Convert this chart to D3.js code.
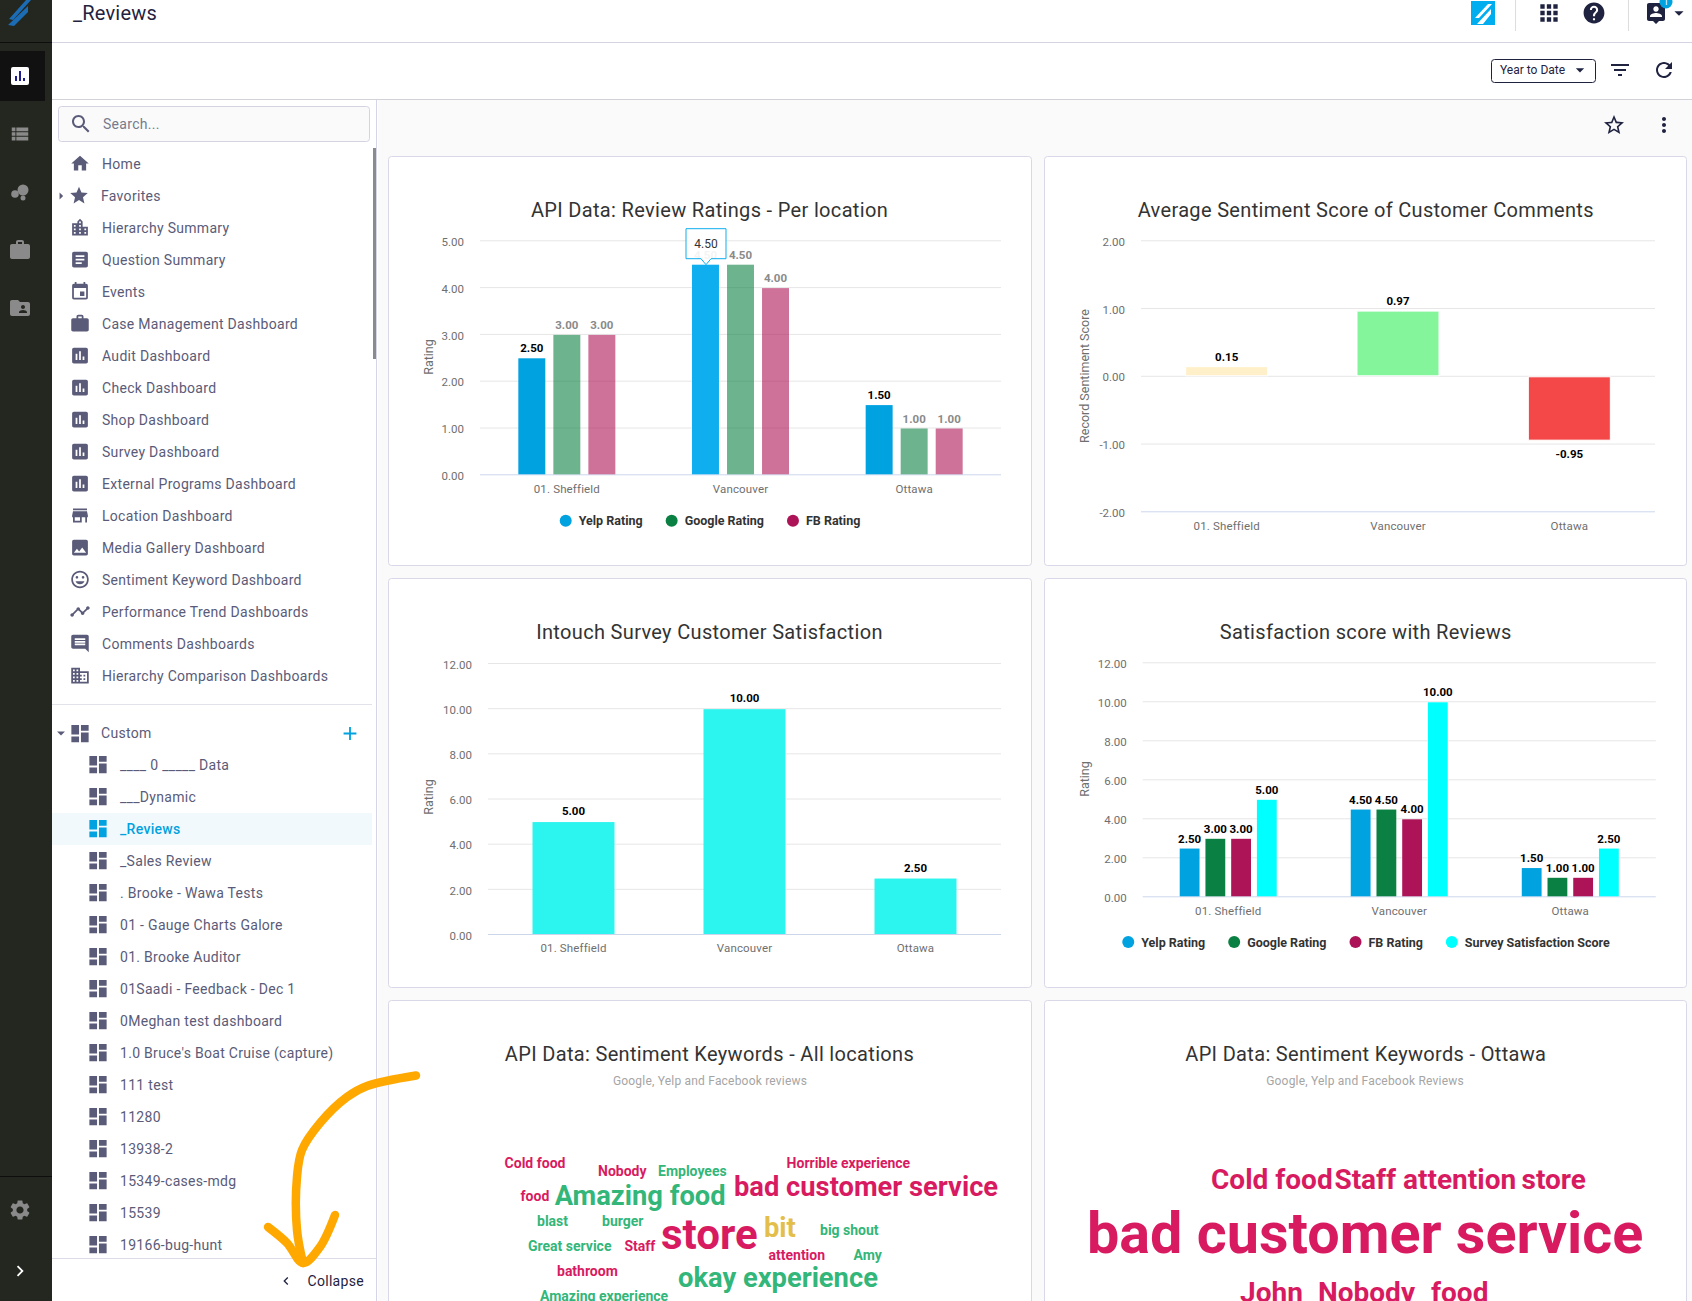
<!DOCTYPE html>
<html><head><meta charset="utf-8"><title>_Reviews</title>
<script src="https://cdn.jsdelivr.net/npm/d3@7"></script>
<style>
html,body{margin:0;padding:0;background:#fff;overflow:hidden}
svg{display:block;font-family:Roboto,sans-serif}
</style></head><body>
<svg id="page" width="1692" height="1301"></svg>
<script>
// ---------- data ----------
const categories = ["01. Sheffield","Vancouver","Ottawa"];
const yelpRating = [2.5,4.5,1.5];
const googleRating = [3,4.5,1];
const fbRating = [3,4,1];
const surveyScore = [5,10,2.5];
const sentimentScore = [0.15,0.97,-0.95];
const sidebarTop = ["Home","Favorites","Hierarchy Summary","Question Summary","Events","Case Management Dashboard","Audit Dashboard","Check Dashboard","Shop Dashboard","Survey Dashboard","External Programs Dashboard","Location Dashboard","Media Gallery Dashboard","Sentiment Keyword Dashboard","Performance Trend Dashboards","Comments Dashboards","Hierarchy Comparison Dashboards"];
const sidebarCustom = ["____ 0 _____ Data","___Dynamic","_Reviews","_Sales Review",". Brooke - Wawa Tests","01 - Gauge Charts Galore","01. Brooke Auditor","01Saadi - Feedback - Dec 1","0Meghan test dashboard","1.0 Bruce's Boat Cruise (capture)","111 test","11280","13938-2","15349-cases-mdg","15539","19166-bug-hunt"];
const cloudAllWords = ["Cold food","Nobody","Employees","Horrible experience","food","Amazing food","bad customer service","blast","burger","store","bit","big shout","Great service","Staff","attention","Amy","bathroom","okay experience","Amazing experience"];
const cloudAllWeights = [1,1,1,1,1,2,2,1,1,3,2,1,1,1,1,1,1,2,1];
const cloudAllTone = ["neg","neg","pos","neg","neg","pos","neg","pos","pos","neg","neu","pos","pos","neg","neg","pos","neg","pos","pos"];
const cloudOttawaWords = ["Cold food","Staff","attention","store","bad customer service","John","Nobody","food"];
const cloudOttawaWeights = [1,1,1,1,2,1,1,1];

// ---------- layout & style (kept apart from the data) ----------
const C = {ink:"#1f2340", side:"#5a5b78", rail:"#23271f", railIcon:"#8a8a8a", blue:"#00a2e0", grid:"#e6e6e6", base:"#ccd6eb", axis:"#6f6f6f", title:"#333"};
const seriesColor = {yelp:"#00a2e0", google:"#0b8043", fb:"#ad1457", survey:"#00ffff"};
const toneColor = {neg:"#d81b60", pos:"#33b679", neu:"#e4be4b"};
const cloudAllPos = [[504.6,1168],[598,1176],[658,1176],[786.6,1168],[520.6,1200.5],[554.7,1205],[734,1196],[537,1226],[602,1226],[661,1249],[764,1237],[820,1235],[528,1251],[624.5,1251],[768.5,1260],[853.5,1260],[557,1276],[678,1287],[540,1301]];
const cloudOttawaPos = [[1211,1189],[1334.4,1189],[1403,1189],[1521.5,1189],[1087,1253],[1240,1302],[1318,1302],[1431,1302]];
const ICON = {
 home:"M10 20v-6h4v6h5v-8h3L12 3 2 12h3v8z",
 star:"M12 17.27L18.18 21l-1.64-7.03L22 9.24l-7.19-.61L12 2 9.19 8.63 2 9.24l5.46 4.73L5.82 21z",
 city:"M15 11V5l-3-3-3 3v2H3v14h18V11h-6zm-8 8H5v-2h2v2zm0-4H5v-2h2v2zm0-4H5V9h2v2zm6 8h-2v-2h2v2zm0-4h-2v-2h2v2zm0-4h-2V9h2v2zm0-4h-2V5h2v2zm6 12h-2v-2h2v2zm0-4h-2v-2h2v2z",
 article:"M19 3H5c-1.1 0-2 .9-2 2v14c0 1.1.9 2 2 2h14c1.1 0 2-.9 2-2V5c0-1.1-.9-2-2-2zm-5 14H7v-2h7v2zm3-4H7v-2h10v2zm0-4H7V7h10v2z",
 event:"M17 12h-5v5h5v-5zM16 1v2H8V1H6v2H5c-1.11 0-1.99.9-1.99 2L3 19c0 1.1.89 2 2 2h14c1.1 0 2-.9 2-2V5c0-1.1-.9-2-2-2h-1V1h-2zm3 18H5V8h14v11z",
 work:"M20 6h-4V4c0-1.11-.89-2-2-2h-4c-1.11 0-2 .89-2 2v2H4c-1.11 0-1.99.89-1.99 2L2 19c0 1.11.89 2 2 2h16c1.11 0 2-.89 2-2V8c0-1.11-.89-2-2-2zm-6 0h-4V4h4v2z",
 chart:"M19 3H5c-1.1 0-2 .9-2 2v14c0 1.1.9 2 2 2h14c1.1 0 2-.9 2-2V5c0-1.1-.9-2-2-2zM9 17H7v-7h2v7zm4 0h-2V7h2v10zm4 0h-2v-4h2v4z",
 store:"M20 4H4v2h16V4zm1 10v-2l-1-5H4l-1 5v2h1v6h10v-6h4v6h2v-6h1zm-9 4H6v-4h6v4z",
 photo:"M21 19V5c0-1.1-.9-2-2-2H5c-1.1 0-2 .9-2 2v14c0 1.1.9 2 2 2h14c1.1 0 2-.9 2-2zM8.5 13.5l2.5 3.01L14.5 12l4.5 6H5l3.5-4.5z",
 mood:"M11.99 2C6.47 2 2 6.48 2 12s4.47 10 9.99 10C17.52 22 22 17.52 22 12S17.52 2 11.99 2zM12 20c-4.42 0-8-3.58-8-8s3.58-8 8-8 8 3.58 8 8-3.58 8-8 8zm3.5-9c.83 0 1.5-.67 1.5-1.5S16.33 8 15.5 8 14 8.67 14 9.5s.67 1.5 1.5 1.5zm-7 0c.83 0 1.5-.67 1.5-1.5S9.33 8 8.5 8 7 8.67 7 9.5 7.67 11 8.5 11zm3.5 6.5c2.33 0 4.31-1.46 5.11-3.5H6.89c.8 2.04 2.78 3.5 5.11 3.5z",
 timeline:"M23 8c0 1.1-.9 2-2 2-.18 0-.35-.02-.51-.07l-3.56 3.55c.05.16.07.34.07.52 0 1.1-.9 2-2 2s-2-.9-2-2c0-.18.02-.36.07-.52l-2.55-2.55c-.16.05-.34.07-.52.07s-.36-.02-.52-.07l-4.55 4.56c.05.16.07.33.07.51 0 1.1-.9 2-2 2s-2-.9-2-2 .9-2 2-2c.18 0 .35.02.51.07l4.56-4.55C8.02 9.36 8 9.18 8 9c0-1.1.9-2 2-2s2 .9 2 2c0 .18-.02.36-.07.52l2.55 2.55c.16-.05.34-.07.52-.07s.36.02.52.07l3.55-3.56C19.02 8.35 19 8.18 19 8c0-1.1.9-2 2-2s2 .9 2 2z",
 comment:"M21.99 4c0-1.1-.89-2-1.99-2H4c-1.1 0-2 .9-2 2v12c0 1.1.9 2 2 2h14l4 4-.01-18zM18 14H6v-2h12v2zm0-3H6V9h12v2zm0-3H6V6h12v2z",
 domain:"M12 7V3H2v18h20V7H12zM6 19H4v-2h2v2zm0-4H4v-2h2v2zm0-4H4V9h2v2zm0-4H4V5h2v2zm4 12H8v-2h2v2zm0-4H8v-2h2v2zm0-4H8V9h2v2zm0-4H8V5h2v2zm10 12h-8v-2h2v-2h-2v-2h2v-2h-2V9h8v10zm-2-8h-2v2h2v-2zm0 4h-2v2h2v-2z",
 dash:"M3 13h8V3H3v10zm0 8h8v-6H3v6zm10 0h8V11h-8v10zm0-18v6h8V3h-8z",
 search:"M15.5 14h-.79l-.28-.27C15.41 12.59 16 11.11 16 9.5 16 5.91 13.09 3 9.5 3S3 5.91 3 9.5 5.91 16 9.5 16c1.61 0 3.09-.59 4.23-1.57l.27.28v.79l5 4.99L20.49 19l-4.99-5zm-6 0C7.01 14 5 11.99 5 9.5S7.01 5 9.5 5 14 7.01 14 9.5 11.99 14 9.5 14z",
 gear:"M19.14 12.94c.04-.3.06-.61.06-.94 0-.32-.02-.64-.07-.94l2.03-1.58c.18-.14.23-.41.12-.61l-1.92-3.32c-.12-.22-.37-.29-.59-.22l-2.39.96c-.5-.38-1.03-.7-1.62-.94l-.36-2.54c-.04-.24-.24-.41-.48-.41h-3.84c-.24 0-.43.17-.47.41l-.36 2.54c-.59.24-1.13.57-1.62.94l-2.39-.96c-.22-.08-.47 0-.59.22L2.74 8.87c-.12.21-.08.47.12.61l2.03 1.58c-.05.3-.09.63-.09.94s.02.64.07.94l-2.03 1.58c-.18.14-.23.41-.12.61l1.92 3.32c.12.22.37.29.59.22l2.39-.96c.5.38 1.03.7 1.62.94l.36 2.54c.05.24.24.41.48.41h3.84c.24 0 .44-.17.47-.41l.36-2.54c.59-.24 1.13-.56 1.62-.94l2.39.96c.22.08.47 0 .59-.22l1.92-3.32c.12-.22.07-.47-.12-.61l-2.01-1.58zM12 15.6c-1.98 0-3.6-1.62-3.6-3.6s1.62-3.6 3.6-3.6 3.6 1.62 3.6 3.6-1.62 3.6-3.6 3.6z",
 help:"M12 2C6.48 2 2 6.48 2 12s4.48 10 10 10 10-4.48 10-10S17.52 2 12 2zm1 17h-2v-2h2v2zm2.07-7.75l-.9.92C13.45 12.9 13 13.5 13 15h-2v-.5c0-1.1.45-2.1 1.17-2.83l1.24-1.26c.37-.36.59-.86.59-1.41 0-1.1-.9-2-2-2s-2 .9-2 2H8c0-2.21 1.79-4 4-4s4 1.79 4 4c0 .88-.36 1.68-.93 2.25z",
 apps:"M4 8h4V4H4v4zm6 12h4v-4h-4v4zm-6 0h4v-4H4v4zm0-6h4v-4H4v4zm6 0h4v-4h-4v4zm6-10v4h4V4h-4zm-6 4h4V4h-4v4zm6 6h4v-4h-4v4zm0 6h4v-4h-4v4z",
 filter:"M10 18h4v-2h-4v2zM3 6v2h18V6H3zm3 7h12v-2H6v2z",
 refresh:"M17.65 6.35C16.2 4.9 14.21 4 12 4c-4.42 0-7.99 3.58-7.99 8s3.57 8 7.99 8c3.73 0 6.84-2.55 7.73-6h-2.08c-.82 2.33-3.04 4-5.65 4-3.31 0-6-2.69-6-6s2.69-6 6-6c1.66 0 3.14.69 4.22 1.78L13 11h7V4l-2.35 2.35z",
 starO:"M22 9.24l-7.19-.62L12 2 9.19 8.63 2 9.24l5.46 4.73L5.82 21 12 17.27 18.18 21l-1.63-7.03L22 9.24zM12 15.4l-3.76 2.27 1-4.28-3.32-2.88 4.38-.38L12 6.1l1.71 4.04 4.38.38-3.32 2.88 1 4.28L12 15.4z",
 more:"M12 8c1.1 0 2-.9 2-2s-.9-2-2-2-2 .9-2 2 .9 2 2 2zm0 2c-1.1 0-2 .9-2 2s.9 2 2 2 2-.9 2-2-.9-2-2-2zm0 6c-1.1 0-2 .9-2 2s.9 2 2 2 2-.9 2-2-.9-2-2-2z",
 list:"M3 14h4v-4H3v4zm0 5h4v-4H3v4zM3 9h4V5H3v4zm5 5h13v-4H8v4zm0 5h13v-4H8v4zM8 5v4h13V5H8z",
 folder:"M20 6h-8l-2-2H4c-1.1 0-1.99.9-1.99 2L2 18c0 1.1.9 2 2 2h16c1.1 0 2-.9 2-2V8c0-1.1-.9-2-2-2zm-5 3c1.1 0 2 .9 2 2s-.9 2-2 2-2-.9-2-2 .9-2 2-2zm4 8h-8v-1c0-1.33 2.67-2 4-2s4 .67 4 2v1z",
 user:"M19 2H5c-1.11 0-2 .9-2 2v14c0 1.1.89 2 2 2h4l3 3 3-3h4c1.1 0 2-.9 2-2V4c0-1.1-.9-2-2-2zm-7 3.3c1.49 0 2.7 1.21 2.7 2.7 0 1.49-1.21 2.7-2.7 2.7-1.49 0-2.7-1.21-2.7-2.7 0-1.49 1.21-2.7 2.7-2.7zM18 16H6v-.9c0-2 4-3.1 6-3.1s6 1.1 6 3.1v.9z",
 caret:"M7 10l5 5 5-5z", caretR:"M10 7l5 5-5 5z", chev:"M8.6 16.6L13.2 12 8.6 7.4 10 6l6 6-6 6z", chevL:"M15.4 7.4L10.8 12l4.6 4.6L14 18l-6-6 6-6z", plus:"M19 13h-6v6h-2v-6H5v-2h6V5h2v6h6v2z"
};
const topIcons = ["home","star","city","article","event","work","chart","chart","chart","chart","chart","store","photo","mood","timeline","comment","domain"];

const svg = d3.select("#page");
function rect(p,x,y,w,h,fill,extra={}){const r=p.append("rect").attr("x",x).attr("y",y).attr("width",w).attr("height",h).attr("fill",fill);Object.entries(extra).forEach(([k,v])=>r.attr(k,v));return r;}
function text(p,x,y,s,size,fill,extra={}){const t=p.append("text").attr("x",x).attr("y",y).attr("font-size",size).attr("fill",fill).text(s);Object.entries(extra).forEach(([k,v])=>t.attr(k,v));return t;}
function icon(p,name,cx,cy,px,fill){return p.append("path").attr("d",ICON[name]).attr("fill",fill).attr("transform",`translate(${cx-px/2},${cy-px/2}) scale(${px/24})`);}
function hline(p,x1,x2,y,c){p.append("line").attr("x1",x1).attr("x2",x2).attr("y1",y).attr("y2",y).attr("stroke",c).attr("stroke-width",1);}

// ---------- page chrome ----------
rect(svg,0,0,1692,1301,"#fff");
rect(svg,378,100,1314,1201,"#fafafa");
// rail
rect(svg,0,0,52,1301,C.rail);
rect(svg,0,42,52,1,"#0e0e0e");
rect(svg,0,1176,52,1,"#0e0e0e");
rect(svg,0,51,45,50,"#111");
svg.append("path").attr("d","M9 19L26 0H31L13 20ZM8 25L28 6V12L14 26Z").attr("fill","#1b6bb5");
rect(svg,11,67,18,18,"#fff",{rx:2});
rect(svg,15,76,2,5,"#1d1d8f");rect(svg,19,71,2,10,"#1d1d8f");rect(svg,23,78,2,3,"#1d1d8f");
icon(svg,"list",20,134,22,C.railIcon);
[[23,190,5.5],[15,194,3.8],[23,198,2.5]].forEach(([x,y,r])=>svg.append("circle").attr("cx",x).attr("cy",y).attr("r",r).attr("fill",C.railIcon));
icon(svg,"work",20,250,24,C.railIcon);
icon(svg,"folder",20,308,24,C.railIcon);
icon(svg,"gear",20,1210,24,C.railIcon);
icon(svg,"chev",20,1271,22,"#fff");

// header
text(svg,73,20,"_Reviews",20,C.ink,{"letter-spacing":"0.2"});
hline(svg,52,1692,42.5,"#d5d3e3");
hline(svg,52,1692,99.5,"#d2d2d8");
svg.append("line").attr("x1",376.5).attr("x2",376.5).attr("y1",100).attr("y2",1301).attr("stroke","#d5d5e8");
rect(svg,1471,1,24,24,"#00aeef");
svg.append("path").attr("d","M1475 18L1488 4H1492L1479 18ZM1477 24L1491 9V14L1483 24Z").attr("fill","#fff");
rect(svg,1515,0,1,31,"#ddd");rect(svg,1628,0,1,31,"#ddd");
icon(svg,"apps",1549,13,26,C.ink);
icon(svg,"help",1594,13,25,C.ink);
icon(svg,"user",1656,13,24,C.ink);
svg.append("circle").attr("cx",1666).attr("cy",2).attr("r",6.5).attr("fill",C.blue);
text(svg,1666,5,"1",9,"#fff",{"text-anchor":"middle"});
icon(svg,"caret",1679,13,22,C.ink);
rect(svg,1491.5,59.5,104,23,"#fff",{stroke:C.ink,rx:3});
text(svg,1500,74,"Year to Date",12,C.ink);
icon(svg,"caret",1580,70,20,C.ink);
icon(svg,"filter",1620,70,24,C.ink);
icon(svg,"refresh",1664,70,24,C.ink);
icon(svg,"starO",1614,125,24,C.ink);
icon(svg,"more",1664,125,24,C.ink);

// sidebar
const sideFont={"letter-spacing":"0.3"};
rect(svg,58.5,106.5,311,35,"#fafafa",{stroke:"#d5d3e3",rx:3});
icon(svg,"search",81,124,24,C.side);
text(svg,103,129,"Search...",14,"#777a8c",sideFont);
rect(svg,373,148,3,211,"#8a8a8f");
const rowsTop = d3.scalePoint().domain(sidebarTop).range([163.5,675.5]);
sidebarTop.forEach((s,i)=>{
  const y=rowsTop(s), x=s==="Favorites"?101:102;
  icon(svg,topIcons[i],i===1?79:80,y,21,C.side);
  text(svg,x,y+5,s,14,C.side,sideFont);
});
icon(svg,"caretR",61,196,17,C.side);
hline(svg,52,372,704.5,"#e2e2ea");
icon(svg,"caret",61,733,19,C.side);
icon(svg,"dash",80,733.5,23,C.side);
text(svg,101,738,"Custom",14,C.side,sideFont);
icon(svg,"plus",350,733.5,22,C.blue);
const rowsCustom = d3.scalePoint().domain(sidebarCustom).range([764.5,1244.5]);
rect(svg,52,813,320,32,"#f2f9fc");
sidebarCustom.forEach(s=>{
  const y=rowsCustom(s), on=s==="_Reviews", c=on?C.blue:C.side;
  icon(svg,"dash",98,y,23,c);
  text(svg,120,y+5,s,14,c,{...sideFont,"font-weight":on?500:400});
});
rect(svg,52,1258,324,43,"#fff");
hline(svg,52,376,1258.5,"#dcdce8");
icon(svg,"chevL",286,1281,16,C.ink);
text(svg,307.5,1285.5,"Collapse",14,C.ink,sideFont);

// ---------- cards ----------
function card(x0,x1,y0,y1){rect(svg,x0+.5,y0+.5,x1-x0,y1-y0,"#fff",{stroke:"#d8d8e8",rx:3});}
const col1=[388,1031], col2=[1044,1686];
card(col1[0],col1[1],156,565);card(col2[0],col2[1],156,565);
card(col1[0],col1[1],578,987);card(col2[0],col2[1],578,987);
card(col1[0],col1[1],1000,1320);card(col2[0],col2[1],1000,1320);
function title(cx,y,s){text(svg,cx,y,s,20,C.title,{"text-anchor":"middle","letter-spacing":"0.33"});}
const fmt=v=>d3.format(".2f")(v).replace("\u2212","-");
const barInset=1;

function frame(o){
  const g=svg.append("g");
  const y=d3.scaleLinear().domain(o.domain).range(o.yRange);
  const x=d3.scaleBand().domain(categories).range(o.xRange);
  const ax=g.append("g").attr("transform",`translate(${o.xRange[0]},0)`)
    .call(d3.axisLeft(y).tickValues(o.ticks).tickFormat(fmt).tickSize(-(o.xRange[1]-o.xRange[0])).tickPadding(o.pad));
  ax.select(".domain").remove();
  ax.selectAll(".tick line").attr("stroke",d=>d===o.domain[0]?C.base:C.grid);
  ax.selectAll(".tick text").attr("fill",C.axis).attr("font-size",11.5).attr("font-family","Roboto").attr("transform","translate(0,1.5)");
  const bx=g.append("g").attr("transform",`translate(0,${o.labelY})`).call(d3.axisBottom(x).tickSize(0).tickPadding(0));
  bx.select(".domain").remove();
  bx.selectAll(".tick text").attr("fill",C.axis).attr("font-size",11.5).attr("letter-spacing","0.15").attr("font-family","Roboto").attr("dy","0");
  text(g,0,0,o.yTitle,12.5,C.axis,{"text-anchor":"middle",transform:`translate(${o.yTitleX},${o.yTitleY}) rotate(-90)`});
  return {g,x,y};
}
function legend(cx,y,items){
  const g=svg.append("g");
  let cur=0;
  items.forEach(it=>{
    const i=g.append("g").attr("transform",`translate(${cur},0)`);
    i.append("circle").attr("cx",6).attr("cy",0).attr("r",6).attr("fill",it.c);
    const t=text(i,19,4.5,it.n,12.5,"#333",{"font-weight":700});
    cur+=19+t.node().getComputedTextLength()+23;
  });
  g.attr("transform",`translate(${cx-(cur-23)/2},${y})`);
}
function grouped(f,series,inner){
  const band=d3.scaleBand().domain(series.map(s=>s.name)).range([-inner.w/2,inner.w/2]).paddingInner(inner.gap);
  series.forEach(s=>{
    const layer=f.g.append("g");
    layer.selectAll("rect").data(s.values).join("rect")
      .attr("x",(d,i)=>f.x(categories[i])+f.x.bandwidth()/2+band(s.name))
      .attr("y",d=>f.y(d)+barInset).attr("width",band.bandwidth())
      .attr("height",d=>f.y(0)-f.y(d)-barInset)
      .attr("fill",(d,i)=>s.fillAt?s.fillAt(i):s.color).attr("fill-opacity",s.opacity||1);
    layer.selectAll("text").data(s.values).join("text")
      .attr("x",(d,i)=>f.x(categories[i])+f.x.bandwidth()/2+band(s.name)+band.bandwidth()/2)
      .attr("y",d=>f.y(d)-5).attr("text-anchor","middle").attr("font-size",11.5).attr("font-weight",700)
      .attr("fill",(d,i)=>s.labelAt?s.labelAt(i):(s.label||"#000")).text(fmt);
  });
}

// chart 1
title(709.5,216.5,"API Data: Review Ratings - Per location");
const f1=frame({domain:[0,5],ticks:d3.range(0,6),yRange:[474.3,240.3],xRange:[480,1001],labelY:493,pad:16,yTitle:"Rating",yTitleX:433,yTitleY:357});
grouped(f1,[
 {name:"Yelp Rating",values:yelpRating,color:seriesColor.yelp,fillAt:i=>i===1?"#0faeee":seriesColor.yelp,labelAt:i=>i===1?"#c4c4c4":"#000"},
 {name:"Google Rating",values:googleRating,color:seriesColor.google,opacity:.6,label:"#8a8a8a"},
 {name:"FB Rating",values:fbRating,color:seriesColor.fb,opacity:.6,label:"#8a8a8a"}
],{w:97,gap:.23});
legend(710,520.7,[{n:"Yelp Rating",c:seriesColor.yelp},{n:"Google Rating",c:seriesColor.google},{n:"FB Rating",c:seriesColor.fb}]);
// tooltip on Vancouver / Yelp
{
  const bandX=f1.x("Vancouver")+f1.x.bandwidth()/2-48.5+14, top=f1.y(yelpRating[1])+2;
  const tip=svg.append("g").attr("transform",`translate(${bandX},${top})`);
  tip.append("path").attr("d","M-20 -37 H20 V-7 H5 L0 -1 L-5 -7 H-20 Z").attr("fill","#fff").attr("fill-opacity",.8).attr("stroke","#0faeee").attr("stroke-width",1).attr("stroke-linejoin","round");
  text(tip,0,-18,fmt(yelpRating[1]),12,"#333",{"text-anchor":"middle"});
}

// chart 2
title(1365.8,216.5,"Average Sentiment Score of Customer Comments");
const f2=frame({domain:[-2,2],ticks:d3.range(-2,3),yRange:[511.3,240.3],xRange:[1141,1655],labelY:530,pad:16,yTitle:"Record Sentiment Score",yTitleX:1089,yTitleY:376});
const sentColor=["#fff0c9","#84f59a","#f44848"];
f2.g.append("g").selectAll("rect").data(sentimentScore).join("rect")
 .attr("x",(d,i)=>f2.x(categories[i])+f2.x.bandwidth()/2-41).attr("width",82)
 .attr("y",d=>f2.y(Math.max(d,0))+(d>0?barInset:1)).attr("height",d=>Math.abs(f2.y(d)-f2.y(0))-barInset)
 .attr("fill",(d,i)=>sentColor[i]).attr("stroke","#fff");
f2.g.append("g").selectAll("text").data(sentimentScore).join("text")
 .attr("x",(d,i)=>f2.x(categories[i])+f2.x.bandwidth()/2)
 .attr("y",d=>d>=0?f2.y(d)-5:f2.y(d)+18).attr("text-anchor","middle").attr("font-size",11.5).attr("font-weight",700).attr("fill","#000").text(fmt);

// chart 3
title(709.5,638.5,"Intouch Survey Customer Satisfaction");
const f3=frame({domain:[0,12],ticks:d3.range(0,13,2),yRange:[934,663],xRange:[488,1001],labelY:952,pad:16,yTitle:"Rating",yTitleX:433,yTitleY:797});
f3.g.append("g").selectAll("rect").data(surveyScore).join("rect")
 .attr("x",(d,i)=>f3.x(categories[i])+f3.x.bandwidth()/2-41).attr("width",82)
 .attr("y",d=>f3.y(d)+barInset).attr("height",d=>f3.y(0)-f3.y(d)-barInset).attr("fill","#2cf4ee");
f3.g.append("g").selectAll("text").data(surveyScore).join("text")
 .attr("x",(d,i)=>f3.x(categories[i])+f3.x.bandwidth()/2).attr("y",d=>f3.y(d)-6)
 .attr("text-anchor","middle").attr("font-size",11.5).attr("font-weight",700).attr("fill","#000").text(fmt);

// chart 4
title(1365.8,638.5,"Satisfaction score with Reviews");
const f4=frame({domain:[0,12],ticks:d3.range(0,13,2),yRange:[896.3,662.3],xRange:[1142.7,1655.8],labelY:915,pad:16,yTitle:"Rating",yTitleX:1089,yTitleY:779});
grouped(f4,[
 {name:"Yelp Rating",values:yelpRating,color:seriesColor.yelp},
 {name:"Google Rating",values:googleRating,color:seriesColor.google},
 {name:"FB Rating",values:fbRating,color:seriesColor.fb},
 {name:"Survey Satisfaction Score",values:surveyScore,color:seriesColor.survey}
],{w:97,gap:.23});
legend(1366,942,[{n:"Yelp Rating",c:seriesColor.yelp},{n:"Google Rating",c:seriesColor.google},{n:"FB Rating",c:seriesColor.fb},{n:"Survey Satisfaction Score",c:seriesColor.survey}]);

// word clouds
title(709.5,1061,"API Data: Sentiment Keywords - All locations");
text(svg,710,1085,"Google, Yelp and Facebook reviews",12,"#a5a5a5",{"text-anchor":"middle","letter-spacing":"0.2"});
title(1365.8,1061,"API Data: Sentiment Keywords - Ottawa");
text(svg,1365,1085,"Google, Yelp and Facebook Reviews",12,"#a5a5a5",{"text-anchor":"middle","letter-spacing":"0.2"});
const sizeAll=d3.scaleLinear().domain([1,2,3]).range([14,27.3,42]);
const sizeOtt=d3.scaleLinear().domain([1,2]).range([28,57.5]);
svg.append("g").selectAll("text").data(cloudAllWords).join("text")
 .attr("x",(d,i)=>cloudAllPos[i][0]).attr("y",(d,i)=>cloudAllPos[i][1])
 .attr("font-size",(d,i)=>sizeAll(cloudAllWeights[i])).attr("font-weight",700)
 .attr("fill",(d,i)=>toneColor[cloudAllTone[i]]).text(d=>d);
svg.append("g").selectAll("text").data(cloudOttawaWords).join("text")
 .attr("x",(d,i)=>cloudOttawaPos[i][0]).attr("y",(d,i)=>cloudOttawaPos[i][1])
 .attr("font-size",(d,i)=>sizeOtt(cloudOttawaWeights[i])).attr("font-weight",700)
 .attr("fill",toneColor.neg).text(d=>d);

// hand-drawn orange arrow annotation
const arrowStem=[[416,1075.5],[367,1086],[347,1097],[320,1123],[302,1150],[297,1177],[297,1230],[303,1263]];
const arrowHead=[[268,1227],[287,1243],[303,1263],[320,1247],[335,1215]];
const ln=d3.line().curve(d3.curveCatmullRom);
[arrowStem,arrowHead].forEach(p=>svg.append("path").attr("d",ln(p)).attr("fill","none").attr("stroke","#ffa800").attr("stroke-width",8.5).attr("stroke-linecap","round"));
</script>
</body></html>
